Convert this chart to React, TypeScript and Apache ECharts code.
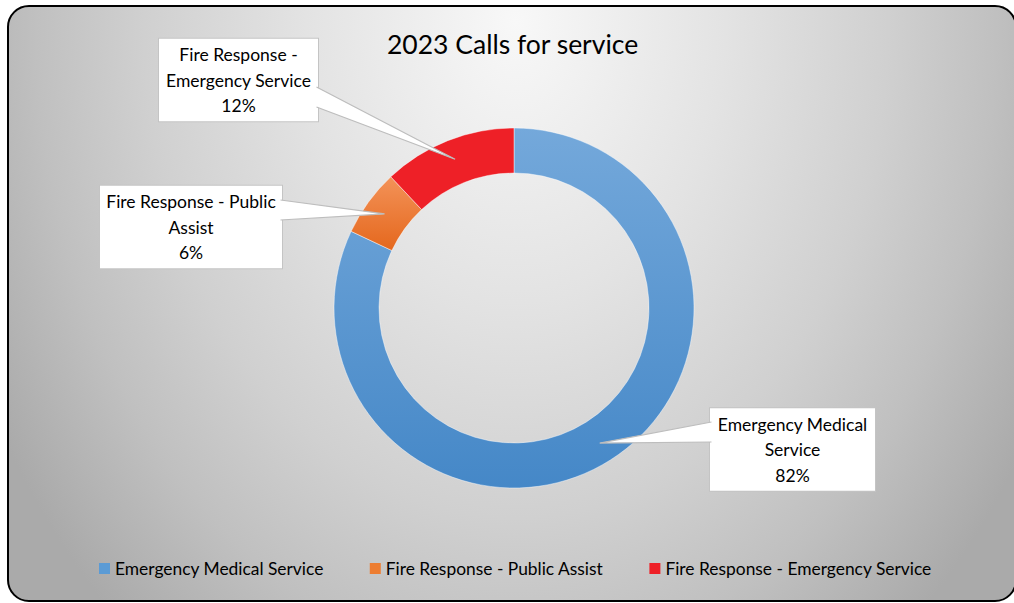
import React, { useEffect, useRef } from "react";
import * as echarts from "echarts";

const categories = [
  "Emergency Medical Service",
  "Fire Response - Public Assist",
  "Fire Response - Emergency Service",
];
const shares = [82, 6, 12];
const labelNames = [
  "Emergency Medical\nService",
  "Fire Response - Public\nAssist",
  "Fire Response -\nEmergency Service",
];

const FONT = "Lato, 'Open Sans', sans-serif";
const CENTER: [number, number] = [514, 308];
const R_IN = 135;
const R_OUT = 180;
const R_TIP = 160;

// label box layout (positions only)
const boxCenter: [number, number][] = [
  [792.5, 449.5],
  [191, 227],
  [238.5, 80],
];
const boxWidth = [165, 182, 159];
const calloutBase: [number, number][][] = [
  [[711.5, 422], [711.5, 442]],
  [[280.5, 200], [280.5, 220]],
  [[316.5, 87], [316.5, 107]],
];

const sliceColors: any[] = [
  {
    type: "linear", x: 0, y: 121, x2: 0, y2: 495, global: true,
    colorStops: [
      { offset: 0, color: "#75a9db" },
      { offset: 1, color: "#4487c7" },
    ],
  },
  {
    type: "linear", x: 0, y: 172, x2: 0, y2: 248, global: true,
    colorStops: [
      { offset: 0, color: "#f4955c" },
      { offset: 1, color: "#e5691f" },
    ],
  },
  "#ee2027",
];
const legendColors = ["#5b9bd5", "#ed7d31", "#ee2027"];

function tipPoint(i: number): [number, number] {
  const total = shares.reduce((a, b) => a + b, 0);
  let start = 0;
  for (let k = 0; k < i; k++) start += shares[k];
  const mid = (start + shares[i] / 2) / total;
  const th = mid * Math.PI * 2;
  return [CENTER[0] + R_TIP * Math.sin(th), CENTER[1] - R_TIP * Math.cos(th)];
}

export default function App() {
  const ref = useRef<HTMLDivElement>(null);
  useEffect(() => {
    if (!ref.current) return;
    const chart = echarts.init(ref.current, undefined, { renderer: "svg" });
    const graphics: any[] = [];
    categories.forEach((_, i) => {
      const tip = tipPoint(i);
      const [b1, b2] = calloutBase[i];
      graphics.push({
        type: "polygon",
        z: 100,
        shape: { points: [b1, tip, b2] },
        style: { fill: "#ffffff", stroke: null },
        silent: true,
      });
      graphics.push({
        type: "polyline",
        z: 101,
        shape: { points: [b1, tip, b2] },
        style: { stroke: "#bdbdbd", lineWidth: 1.2, fill: null },
        silent: true,
      });
    });
    chart.setOption({
      animation: false,
      backgroundColor: "transparent",
      title: {
        text: "2023 Calls for service",
        left: 387,
        top: 30,
        padding: 0,
        textStyle: { fontFamily: FONT, fontSize: 26.5, fontWeight: "normal", color: "#000" },
      },
      legend: {
        data: categories.map((name, i) => ({ name, itemStyle: { color: legendColors[i] } })),
        left: 94,
        top: 555,
        icon: "rect",
        itemWidth: 11,
        itemHeight: 11,
        itemGap: 46,
        itemStyle: { borderWidth: 0 },
        textStyle: { fontFamily: FONT, fontSize: 17.4, color: "#000" },
      },
      graphic: graphics,
      series: [
        {
          type: "pie",
          center: CENTER,
          radius: [R_IN, R_OUT],
          startAngle: 90,
          clockwise: true,
          avoidLabelOverlap: false,
          itemStyle: { borderColor: "rgba(255,255,255,0.55)", borderWidth: 0.8 },
          labelLine: { show: false },
          label: {
            show: true,
            position: "outside",
            fontFamily: FONT,
            fontSize: 17.5,
            lineHeight: 25.5,
            color: "#000",
            backgroundColor: "#ffffff",
            borderColor: "#c4c4c4",
            borderWidth: 1,
            padding: [3, 0],
            align: "center",
            formatter: (p: any) => `${labelNames[p.dataIndex]}\n${Math.round(p.percent)}%`,
          },
          labelLayout: (p: any) => ({
            x: boxCenter[p.dataIndex][0],
            y: boxCenter[p.dataIndex][1],
            align: "center",
            verticalAlign: "middle",
          }),
          emphasis: { disabled: true },
          data: categories.map((name, i) => ({
            name,
            value: shares[i],
            itemStyle: { color: sliceColors[i] },
            label: { width: boxWidth[i] },
          })),
        },
      ],
    });
    return () => chart.dispose();
  }, []);

  return (
    <div style={{ position: "absolute", left: 0, top: 0, width: 1014, height: 603, overflow: "hidden", background: "#ffffff" }}>
      <div
        style={{
          position: "absolute",
          left: 7,
          top: 5,
          width: 1010,
          height: 597,
          boxSizing: "border-box",
          border: "2.5px solid #000",
          borderRadius: 22,
          background:
            "radial-gradient(ellipse 600px 800px at 507px 15px, #f8f8f8 0%, #e3e3e3 35%, #d0d0d0 62%, #c0c0c0 80%, #aaaaaa 100%)",
        }}
      />
      <div ref={ref} style={{ position: "absolute", left: 0, top: 0, width: 1014, height: 603 }} />
    </div>
  );
}
